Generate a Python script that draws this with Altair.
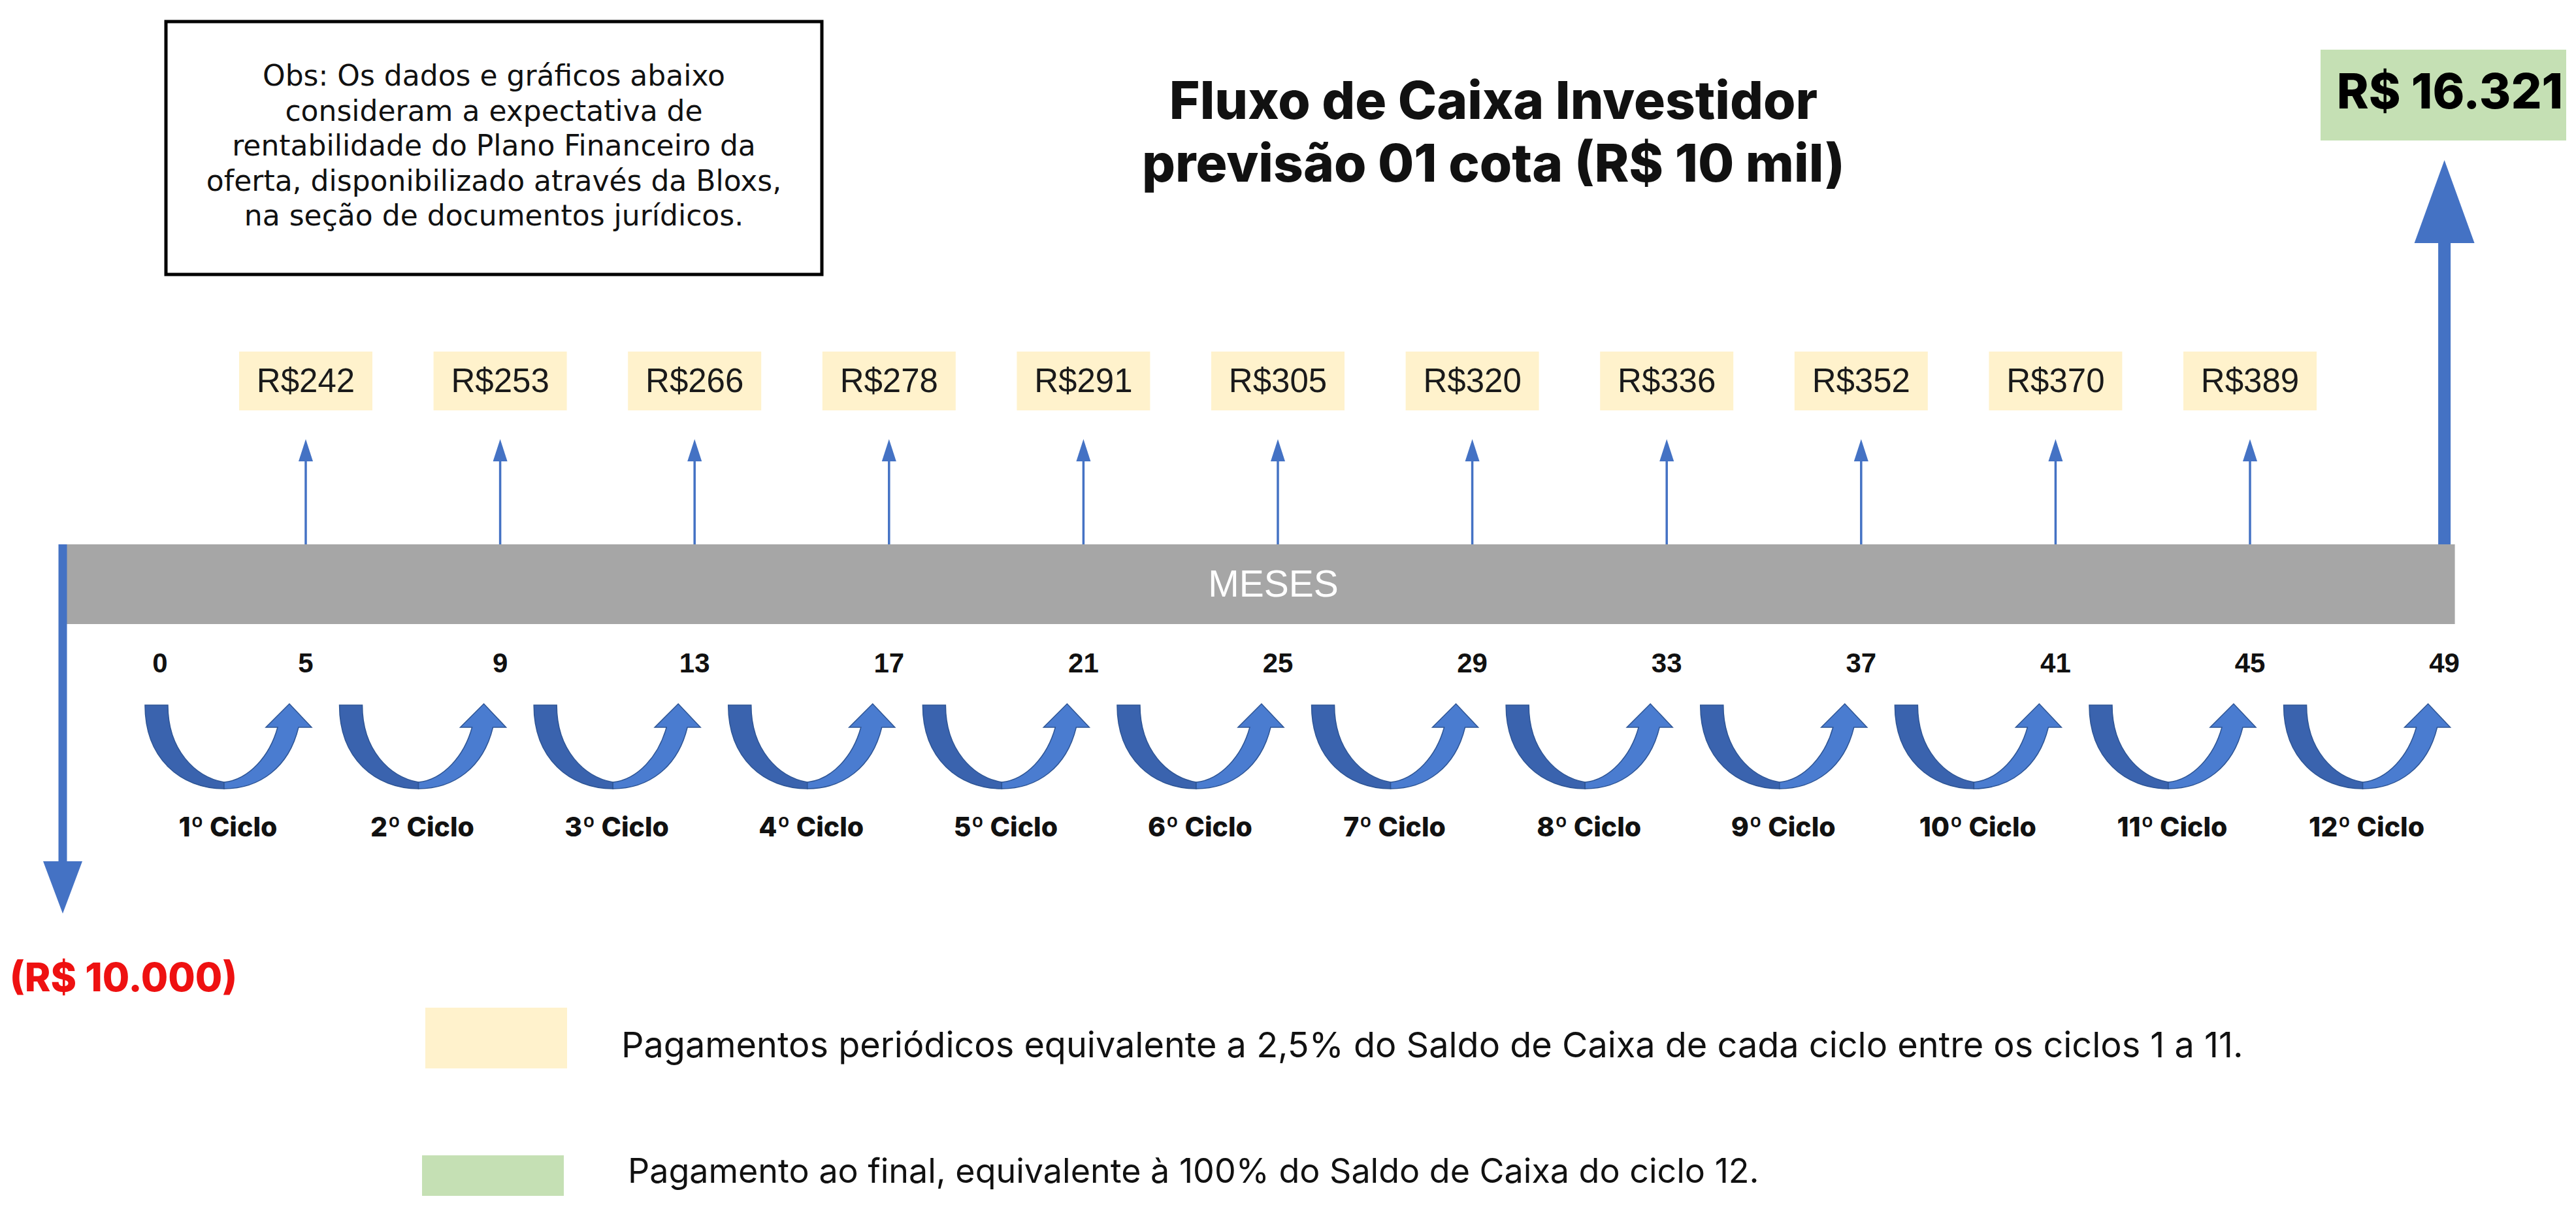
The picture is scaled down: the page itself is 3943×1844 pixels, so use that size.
import altair as alt
import pandas as pd

# ---------------- data ----------------
MESES = [0, 5, 9, 13, 17, 21, 25, 29, 33, 37, 41, 45, 49]
PAG_MES = [5, 9, 13, 17, 21, 25, 29, 33, 37, 41, 45]
PAG_VAL = [242, 253, 266, 278, 291, 305, 320, 336, 352, 370, 389]
CICLOS = ["1º Ciclo", "2º Ciclo", "3º Ciclo", "4º Ciclo", "5º Ciclo", "6º Ciclo",
          "7º Ciclo", "8º Ciclo", "9º Ciclo", "10º Ciclo", "11º Ciclo", "12º Ciclo"]
CICLO_FIM = [5, 9, 13, 17, 21, 25, 29, 33, 37, 41, 45, 49]
INVEST_MES = 0
INVEST_VAL = 10000
FINAL_MES = 49
FINAL_VAL = 16321
TITULO = ["Fluxo de Caixa Investidor", "previsão 01 cota (R$ 10 mil)"]
OBS = ["Obs: Os dados e gráficos abaixo",
       "consideram a expectativa de",
       "rentabilidade do Plano Financeiro da",
       "oferta, disponibilizado através da Bloxs,",
       "na seção de documentos jurídicos."]
LEG_1 = "Pagamentos periódicos equivalente a 2,5% do Saldo de Caixa de cada ciclo entre os ciclos 1 a 11."
LEG_2 = "Pagamento ao final, equivalente à 100% do Saldo de Caixa do ciclo 12."
EIXO = "MESES"


def brl(v):
    return f"{v:,}".replace(",", ".")


# ---------------- layout / style ----------------
W, H = 3920, 1822
PX0 = 88.0        # pixel of month 0
PXM = 74.4        # pixels per month
XSCALE = alt.Scale(domain=[-PX0 / PXM, (W - PX0) / PXM], nice=False, zero=False)
ARROW_BACK = 1.6  # cycle arrow centre sits this many months before the cycle end

BLUE = "#4472C4"
DARK = "#3A63AE"
LIGHT = "#4A7CD0"
EDGE = "#2E5595"
YELLOW = "#FFF2CC"
GREEN = "#C5E0B4"
GRAY = "#A6A6A6"
RED = "#EE1111"
SANS = "Inter"
WIDE = "DejaVu Sans"
ARIAL = "Liberation Sans"


def X(field="mes"):
    return alt.X(f"{field}:Q", scale=XSCALE, axis=None)


one = pd.DataFrame({"k": [0]})
pag = pd.DataFrame({"mes": PAG_MES, "valor": PAG_VAL})
pag["rotulo"] = ["R$" + brl(v) for v in PAG_VAL]
meses = pd.DataFrame({"mes": MESES, "rotulo": [str(m) for m in MESES]})
# "0" is written over the left arm of the first cycle arrow
meses["pos"] = [CICLO_FIM[0] - 3] + MESES[1:]
ciclos = pd.DataFrame({"ciclo": CICLOS, "fim": CICLO_FIM})
ciclos["centro"] = ciclos["fim"] - ARROW_BACK
final = pd.DataFrame({"mes": [FINAL_MES], "valor": [FINAL_VAL]})
invest = pd.DataFrame({"mes": [INVEST_MES], "valor": [INVEST_VAL]})
barra = pd.DataFrame({"a": [INVEST_MES], "b": [FINAL_MES]})

RECT_PATH = "M -102 -45 H 102 V 45 H -102 Z"
SMALL_HEAD = "M 0 -17 L 11 17 L -11 17 Z"
BIG_HEAD = "M 0 -63.5 L 46 63.5 L -46 63.5 Z"
DOWN_HEAD = "M 0 40 L 30 -40 L -30 -40 Z"
U_DARK = "M -127 -64 C -127 18 -72 64 -6 64 L -6 54 C -50 46 -92 5 -92 -64 Z"
U_LIGHT = ("M -6 64 C 48 64 93 32 108 -30 L 128 -30 L 94 -66 L 58 -30 L 76 -30 "
           "C 64 14 32 50 -6 54 Z")

layers = []

# observation box
layers.append(alt.Chart(one).mark_rect(fill="white", stroke="black", strokeWidth=5).encode(
    x=alt.value(246), x2=alt.value(1250), y=alt.value(25), y2=alt.value(412)))
layers.append(alt.Chart(one).mark_text(
    text=OBS, font=WIDE, fontSize=44, lineHeight=53.5, align="center", baseline="middle",
    color="#111111").encode(x=alt.value(748), y=alt.value(110)))

# title
layers.append(alt.Chart(one).mark_text(
    text=TITULO, font=SANS, fontSize=80, fontWeight=800, lineHeight=96, align="center",
    baseline="middle", color="#111111").encode(x=alt.value(2278), y=alt.value(150)))

# final value box
layers.append(alt.Chart(final).mark_rect(fill=GREEN).encode(
    x=alt.value(3544), x2=alt.value(W), y=alt.value(68), y2=alt.value(207)))
layers.append(alt.Chart(final).transform_calculate(
    t="'R$ ' + replace(format(datum.valor, ',.0f'), ',', '.')").mark_text(
    font=SANS, fontSize=74, fontWeight=800, align="center", baseline="middle",
    color="#000000").encode(x=alt.value(3742), y=alt.value(136), text="t:N"))

# big final arrow
layers.append(alt.Chart(final).mark_rule(color=BLUE, strokeWidth=19).encode(
    x=X(), y=alt.value(826), y2=alt.value(360)))
layers.append(alt.Chart(final).mark_point(
    shape=BIG_HEAD, size=4, filled=True, fill=BLUE, opacity=1, strokeWidth=0).encode(
    x=X(), y=alt.value(300.5)))

# grey months bar
layers.append(alt.Chart(barra).mark_rect(color=GRAY, xOffset=-4, x2Offset=16).encode(
    x=X("a"), x2="b:Q", y=alt.value(825), y2=alt.value(947)))
layers.append(alt.Chart(one).mark_text(
    text=EIXO, font=ARIAL, fontSize=57, align="center", baseline="middle",
    color="white").encode(x=alt.value(1941), y=alt.value(888)))

# initial investment arrow
layers.append(alt.Chart(invest).mark_rule(color=BLUE, strokeWidth=13).encode(
    x=X(), y=alt.value(825), y2=alt.value(1312)))
layers.append(alt.Chart(invest).mark_point(
    shape=DOWN_HEAD, size=4, filled=True, fill=BLUE, opacity=1, strokeWidth=0).encode(
    x=X(), y=alt.value(1350)))
layers.append(alt.Chart(invest).transform_calculate(
    t="'(R$ ' + replace(format(datum.valor, ',.0f'), ',', '.') + ')'").mark_text(
    font=SANS, fontSize=60, fontWeight=800, align="center", baseline="middle",
    color=RED).encode(x=alt.value(181), y=alt.value(1491), text="t:N"))

# periodic payments
layers.append(alt.Chart(pag).mark_rule(color=BLUE, strokeWidth=3.5).encode(
    x=X(), y=alt.value(825), y2=alt.value(694)))
layers.append(alt.Chart(pag).mark_point(
    shape=SMALL_HEAD, size=4, filled=True, fill=BLUE, opacity=1, strokeWidth=0).encode(
    x=X(), y=alt.value(681)))
layers.append(alt.Chart(pag).mark_point(
    shape=RECT_PATH, size=4, filled=True, fill=YELLOW, opacity=1, strokeWidth=0).encode(
    x=X(), y=alt.value(575)))
layers.append(alt.Chart(pag).mark_text(
    font=ARIAL, fontSize=51, align="center", baseline="middle", color="#1a1a1a").encode(
    x=X(), y=alt.value(577), text="rotulo:N"))

# month labels
layers.append(alt.Chart(meses).mark_text(
    font=ARIAL, fontSize=42, fontWeight="bold", align="center", baseline="middle",
    color="#111111").encode(x=X("pos"), y=alt.value(1008), text="rotulo:N"))

# cycle arrows
layers.append(alt.Chart(ciclos).mark_point(
    shape=U_DARK, size=4, filled=True, fill=DARK, stroke=EDGE, strokeWidth=1.5,
    opacity=1).encode(x=X("centro"), y=alt.value(1135)))
layers.append(alt.Chart(ciclos).mark_point(
    shape=U_LIGHT, size=4, filled=True, fill=LIGHT, stroke=EDGE, strokeWidth=1.5,
    opacity=1).encode(x=X("centro"), y=alt.value(1135)))
layers.append(alt.Chart(ciclos).mark_text(
    font=SANS, fontSize=41, fontWeight=800, align="center", baseline="middle",
    color="#111111").encode(x=X("centro"), y=alt.value(1260), text="ciclo:N"))

# legend
layers.append(alt.Chart(one).mark_rect(fill=YELLOW).encode(
    x=alt.value(643), x2=alt.value(860), y=alt.value(1534), y2=alt.value(1627)))
layers.append(alt.Chart(one).mark_text(
    text=LEG_1, font=SANS, fontSize=54, align="left", baseline="middle",
    color="#111111").encode(x=alt.value(943), y=alt.value(1594)))
layers.append(alt.Chart(one).mark_rect(fill=GREEN).encode(
    x=alt.value(638), x2=alt.value(855), y=alt.value(1760), y2=alt.value(H)))
layers.append(alt.Chart(one).mark_text(
    text=LEG_2, font=SANS, fontSize=52, align="left", baseline="middle",
    color="#111111").encode(x=alt.value(953), y=alt.value(1786)))

chart = alt.layer(*layers).properties(
    width=W, height=H, padding=0,
    autosize=alt.AutoSizeParams(type="none"),
    background="white",
).configure_view(stroke=None)

chart.save("out.html", embed_options={"renderer": "svg", "actions": False})
